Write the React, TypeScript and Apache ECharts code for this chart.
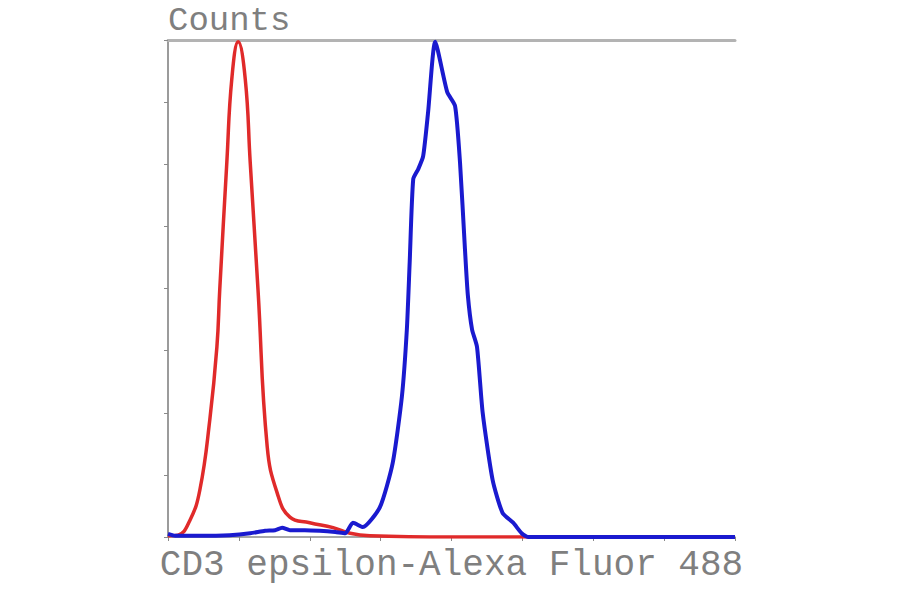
import React, { useEffect, useRef } from "react";
import * as echarts from "echarts";

const xLabel = "CD3 epsilon-Alexa Fluor 488";
const yLabel = "Counts";

const redX = [0, 0.14, 0.31, 0.45, 0.59, 0.69, 0.73, 0.83, 0.9, 0.99, 1.09, 1.16, 1.27, 1.4, 1.54, 1.72, 2.0, 2.33, 2.57, 2.85, 4, 6, 8];
const redY = [0.02, 0.03, 0.27, 0.76, 1.89, 3.06, 3.98, 6.03, 7.37, 7.97, 7.37, 6.03, 3.98, 1.45, 0.71, 0.32, 0.23, 0.15, 0.06, 0.02, 0, 0, 0];

const blueX = [0, 0.1, 0.45, 0.87, 1.16, 1.37, 1.51, 1.61, 1.72, 1.93, 2.14, 2.36, 2.5, 2.61, 2.75, 2.99, 3.17, 3.3, 3.37, 3.41, 3.46, 3.53, 3.6, 3.67, 3.77, 3.94, 4.05, 4.12, 4.19, 4.23, 4.29, 4.36, 4.44, 4.58, 4.72, 4.87, 4.99, 5.08, 6, 8];
const blueY = [0.05, 0.02, 0.02, 0.03, 0.06, 0.1, 0.11, 0.15, 0.11, 0.11, 0.1, 0.08, 0.06, 0.23, 0.16, 0.48, 1.19, 2.26, 3.34, 4.42, 5.76, 5.92, 6.13, 6.84, 7.97, 7.16, 6.94, 6.03, 4.63, 3.9, 3.34, 3.06, 2.0, 0.92, 0.39, 0.23, 0.06, 0, 0, 0];

export default function App() {
  const ref = useRef<HTMLDivElement>(null);
  useEffect(() => {
    if (!ref.current) return;
    const chart = echarts.init(ref.current, null, { renderer: "svg" });
    const font = "'Liberation Mono', 'DejaVu Sans Mono', monospace";
    chart.setOption({
      animation: false,
      backgroundColor: "#ffffff",
      grid: { left: 168, right: 165, top: 40, bottom: 57 },
      xAxis: [
        {
          type: "value",
          min: 0,
          max: 8,
          interval: 1,
          position: "bottom",
          name: xLabel,
          nameLocation: "middle",
          nameGap: 10,
          nameTextStyle: { color: "#7f7f7f", fontSize: 36, lineHeight: 36, fontFamily: font, verticalAlign: "top" },
          axisLine: { show: true, lineStyle: { color: "#8a8a8a", width: 1.5 } },
          axisTick: { show: true, inside: false, length: 4, lineStyle: { color: "#8a8a8a", width: 1 } },
          axisLabel: { show: false },
          splitLine: { show: false },
        },
        {
          type: "value",
          min: 0,
          max: 8,
          position: "top",
          axisLine: { show: true, lineStyle: { color: "#b3b3b3", width: 3 } },
          axisTick: { show: false },
          axisLabel: { show: false },
          splitLine: { show: false },
        },
      ],
      yAxis: {
        type: "value",
        min: 0,
        max: 8,
        interval: 1,
        name: yLabel,
        nameLocation: "end",
        nameGap: 2,
        nameTextStyle: { color: "#7f7f7f", fontSize: 34, lineHeight: 34, fontFamily: font, align: "left", verticalAlign: "bottom", padding: [0, 0, 0, 0] },
        axisLine: { show: true, lineStyle: { color: "#7a7a7a", width: 1.5 } },
        axisTick: { show: true, inside: false, length: 4, lineStyle: { color: "#8a8a8a", width: 1 } },
        axisLabel: { show: false },
        splitLine: { show: false },
      },
      series: [
        {
          type: "line",
          name: "control",
          data: redX.map((x, i) => [x, redY[i]]),
          smooth: 0.45,
          showSymbol: false,
          lineStyle: { color: "#e02a2a", width: 3.5 },
          z: 2,
        },
        {
          type: "line",
          name: "CD3",
          data: blueX.map((x, i) => [x, blueY[i]]),
          smooth: 0.2,
          showSymbol: false,
          lineStyle: { color: "#1a1acf", width: 4 },
          z: 3,
        },
      ],
    });
    return () => chart.dispose();
  }, []);
  return <div ref={ref} style={{ width: 900, height: 594, position: "absolute", left: 0, top: 0 }} />;
}
